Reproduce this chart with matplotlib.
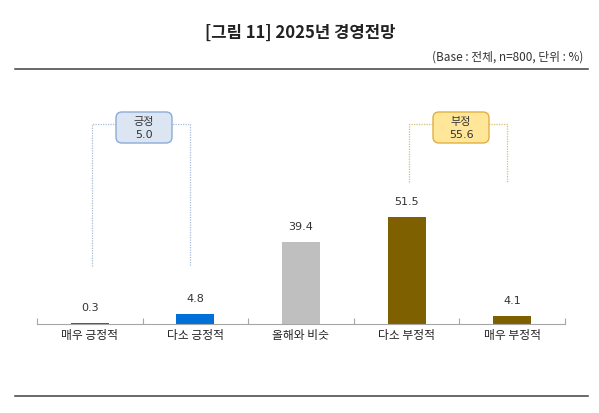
import matplotlib
matplotlib.use("Agg")
import matplotlib.pyplot as plt
from matplotlib.patches import FancyBboxPatch
from matplotlib.lines import Line2D

plt.rcParams['font.family'] = ['Noto Sans CJK KR', 'DejaVu Sans']

# 데이터
categories = ["매우 긍정적", "다소 긍정적", "올해와 비슷", "다소 부정적", "매우 부정적"]
values = [0.3, 4.8, 39.4, 51.5, 4.1]
bar_colors = ["#0070C0", "#0070D8", "#BFBFBF", "#7F6000", "#7F6000"]
groups = [("긍정", 5.0, 0, 1), ("부정", 55.6, 3, 4)]

title = "[그림 11] 2025년 경영전망"
subtitle = "(Base : 전체, n=800, 단위 : %)"

fig = plt.figure(figsize=(5.99, 4.14), dpi=100)
ax = fig.add_axes([37 / 599, (414 - 325) / 414, (565 - 37) / 599, 225 / 414])

x = list(range(len(categories)))
ax.bar(x, values, width=0.36, color=bar_colors)
for xi, v in zip(x, values):
    ax.annotate(f"{v:.1f}", (xi, v), xytext=(0, 11.5), textcoords="offset points",
                ha="center", va="center", fontsize=8, color="#333333",
                family=["DejaVu Sans"])

ax.set_xlim(-0.5, len(categories) - 0.5)
ax.set_ylim(0, 108.7)
ax.set_yticks([])
for s in ["top", "left", "right"]:
    ax.spines[s].set_visible(False)
ax.spines["bottom"].set_color("#A6A6A6")
ax.spines["bottom"].set_linewidth(0.8)

ax.set_xticks(x)
ax.set_xticklabels(categories, fontsize=8.5, color="#222222")
ax.tick_params(axis="x", which="major", length=0, pad=3)
ax.set_xticks([i - 0.5 for i in range(len(categories) + 1)], minor=True)
ax.tick_params(axis="x", which="minor", direction="in", length=4, color="#A6A6A6", width=0.8)

# 긍정 / 부정 묶음 괄호
bracket_style = {
    "긍정": dict(line="#A9BFDC", face="#DCE6F2", edge="#8EAADB", bottom=28, box_x=1.16),
    "부정": dict(line="#D6BE7A", face="#FFE699", edge="#E0B040", bottom=68.6, box_x=4.33),
}
top_y = 96.6
for name, total, i0, i1 in groups:
    st = bracket_style[name]
    xs = [i0 + 0.02, i0 + 0.02, i1 - 0.05, i1 - 0.05]
    ys = [st["bottom"], top_y, top_y, st["bottom"]]
    ax.plot(xs, ys, linestyle=(0, (1, 1)), color=st["line"], linewidth=0.9, clip_on=False)
    box = FancyBboxPatch((st["box_x"], 2.70), 0.56, 0.31,
                         boxstyle="round,pad=0,rounding_size=0.06",
                         transform=fig.dpi_scale_trans, facecolor=st["face"],
                         edgecolor=st["edge"], linewidth=1.0, zorder=5)
    fig.patches.append(box)
    cx = (st["box_x"] + 0.28) / 5.99
    fig.text(cx, (414 - 122) / 414, name, ha="center", va="center", fontsize=8,
             color="#333333", zorder=6)
    fig.text(cx, (414 - 135.5) / 414, f"{total:.1f}", ha="center", va="center",
             fontsize=8, color="#333333", family=["DejaVu Sans"], zorder=6)

# 제목, 부제, 구분선
fig.text(300 / 599, (414 - 33) / 414, title, ha="center", va="center",
         fontsize=12, fontweight="bold", color="#222222")
fig.text(583 / 599, (414 - 57) / 414, subtitle, ha="right", va="center",
         fontsize=8.5, color="#333333")
fig.lines.append(Line2D([15 / 599, 588 / 599], [(414 - 70) / 414] * 2,
                        transform=fig.transFigure, color="#404040", linewidth=1.1))
fig.lines.append(Line2D([15 / 599, 588 / 599], [(414 - 397) / 414] * 2,
                        transform=fig.transFigure, color="#404040", linewidth=1.1))

fig.savefig("out.png", dpi=100)
